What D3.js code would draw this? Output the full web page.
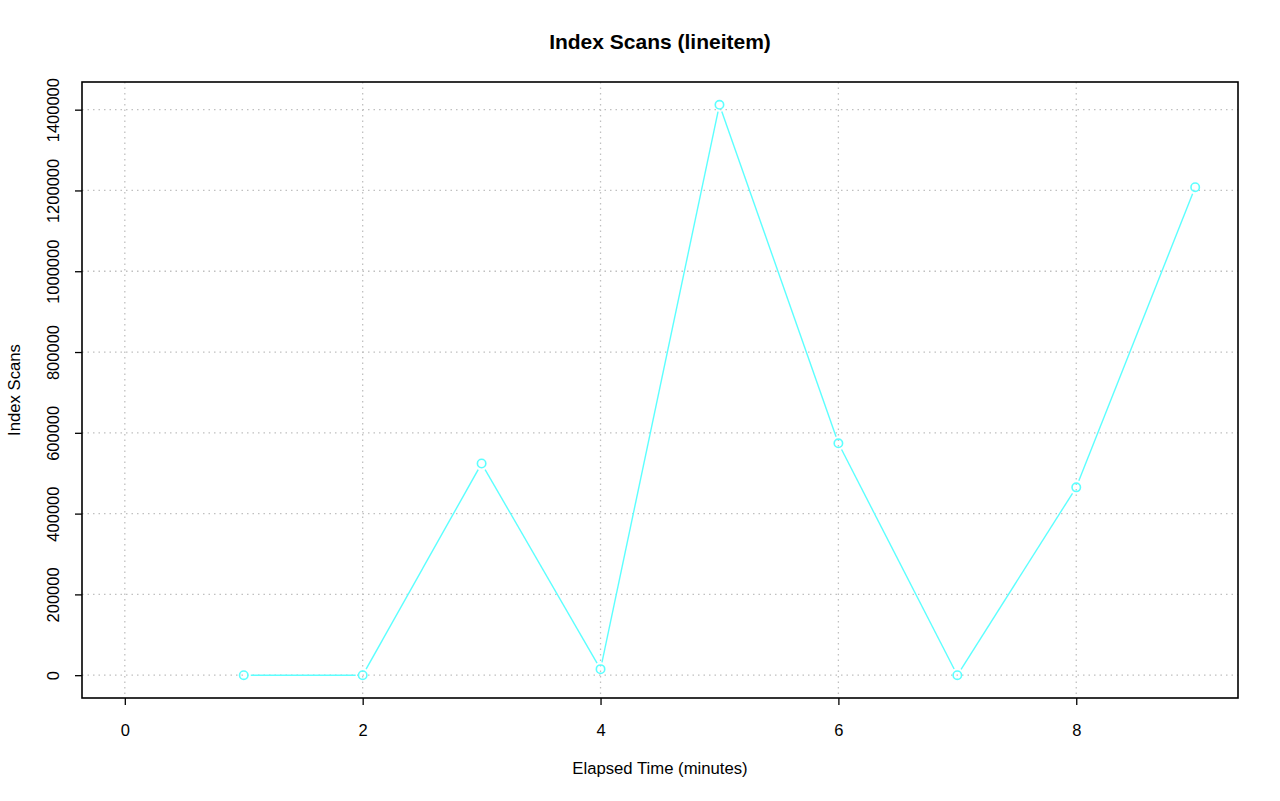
<!DOCTYPE html>
<html><head><meta charset="utf-8">
<script src="https://cdn.jsdelivr.net/npm/d3@7"></script>
<style>body{margin:0;background:#fff}svg{display:block}text{font-family:"Liberation Sans",Arial,sans-serif}</style>
</head><body>
<script>
const minutes = [1, 2, 3, 4, 5, 6, 7, 8, 9];
const indexScans = [0, 0, 524000, 15000, 1412000, 574000, 0, 465000, 1208000];
const xTicks = [0, 2, 4, 6, 8];
const yTicks = [0, 200000, 400000, 600000, 800000, 1000000, 1200000, 1400000];
const title = "Index Scans (lineitem)";
const xLabel = "Elapsed Time (minutes)";
const yLabel = "Index Scans";

const W = 1280, H = 801;
const L = 82, R = 1238, T = 82, B = 698;
const svg = d3.select("body").append("svg").attr("width", W).attr("height", H);

const ymax = d3.max(indexScans);
const xs = d3.scaleLinear().domain([0 - 0.36, 9 + 0.36]).range([L, R]);
const ys = d3.scaleLinear().domain([0 - ymax * 0.04, ymax * 1.04]).range([B, T]);

// grid
const grid = svg.append("g").attr("stroke", "#c0c0c0").attr("stroke-dasharray", "1.5,4").attr("stroke-width", 1.3);
xTicks.forEach(t => grid.append("line").attr("x1", xs(t)).attr("x2", xs(t)).attr("y1", T).attr("y2", B));
yTicks.forEach(t => grid.append("line").attr("x1", L).attr("x2", R).attr("y1", ys(t)).attr("y2", ys(t)));

// axes
const xAxis = d3.axisBottom(xs).tickValues(xTicks).tickSize(7).tickFormat(d3.format("d"));
const gx = svg.append("g").attr("transform", `translate(0,${B})`).call(xAxis);
gx.select(".domain").remove();
gx.selectAll("line").attr("stroke", "#000").attr("stroke-width", 1.3);
gx.selectAll("text").attr("font-size", 16.5).attr("fill", "#000").attr("y", 38).attr("dy", null);

const yAxis = d3.axisLeft(ys).tickValues(yTicks).tickSize(7).tickFormat(d3.format("d"));
const gy = svg.append("g").attr("transform", `translate(${L},0)`).call(yAxis);
gy.select(".domain").remove();
gy.selectAll("line").attr("stroke", "#000").attr("stroke-width", 1.3);
gy.selectAll("text").attr("font-size", 16.5).attr("fill", "#000")
  .attr("x", null).attr("dy", null)
  .attr("text-anchor", "middle")
  .attr("transform", "translate(-23,0) rotate(-90)");

// box
svg.append("rect").attr("x", L).attr("y", T).attr("width", R - L).attr("height", B - T)
  .attr("fill", "none").attr("stroke", "#000").attr("stroke-width", 1.6);

// line segments with gaps (type "b")
const col = "#5cffff";
const gap = 7;
const pts = minutes.map((m, i) => [xs(m), ys(indexScans[i])]);
const lg = svg.append("g").attr("stroke", col).attr("stroke-width", 1.4);
for (let i = 0; i < pts.length - 1; i++) {
  const [x1, y1] = pts[i], [x2, y2] = pts[i + 1];
  const dx = x2 - x1, dy = y2 - y1, len = Math.hypot(dx, dy);
  if (len <= 2 * gap) continue;
  const ux = dx / len, uy = dy / len;
  lg.append("line").attr("x1", x1 + ux * gap).attr("y1", y1 + uy * gap)
    .attr("x2", x2 - ux * gap).attr("y2", y2 - uy * gap);
}
svg.append("g").selectAll("circle").data(pts).join("circle")
  .attr("cx", d => d[0]).attr("cy", d => d[1]).attr("r", 4.2)
  .attr("fill", "none").attr("stroke", col).attr("stroke-width", 1.6);

// titles
svg.append("text").attr("x", (L + R) / 2).attr("y", 49).attr("text-anchor", "middle")
  .attr("font-size", 21).attr("font-weight", "bold").text(title);
svg.append("text").attr("x", (L + R) / 2).attr("y", 774).attr("text-anchor", "middle")
  .attr("font-size", 16.7).text(xLabel);
svg.append("text").attr("transform", `translate(19.5,${(T + B) / 2}) rotate(-90)`).attr("text-anchor", "middle")
  .attr("font-size", 16.7).text(yLabel);
</script>
</body></html>
